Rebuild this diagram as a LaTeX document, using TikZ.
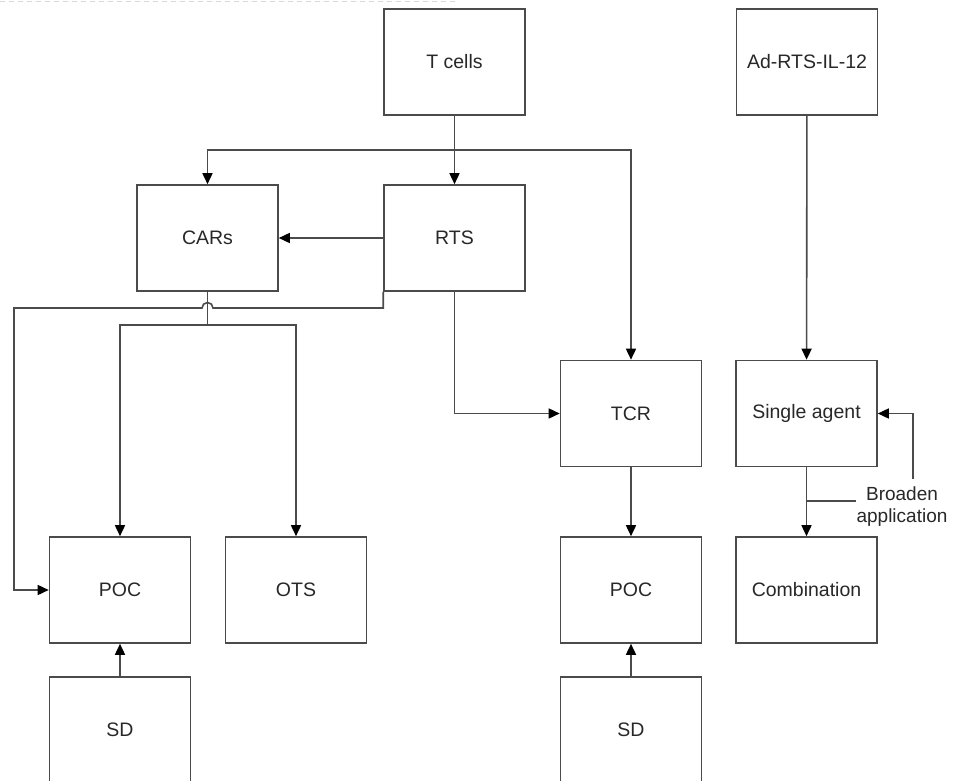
\documentclass[tikz,border=0pt]{standalone}
\usepackage{fontspec}
\setmainfont{Liberation Sans}
\usetikzlibrary{arrows.meta}
\definecolor{linegray}{RGB}{75,75,75}
\definecolor{textgray}{RGB}{40,40,40}
\begin{document}
\begin{tikzpicture}[x=1pt,y=-1pt,
  box/.style={draw=linegray, line width=1.6pt, minimum width=141pt, minimum height=106pt, inner sep=0pt, font=\fontsize{19.5}{23}\selectfont, text=textgray},
  conn/.style={draw=linegray, line width=1.6pt},
  arr/.style={conn, -{Triangle[length=11pt,width=10pt,fill=black,color=black]}},
  lbl/.style={font=\fontsize{19}{22}\selectfont, text=textgray, align=center, inner sep=0pt}]
\fill[white] (0,0) rectangle (954,781);
\useasboundingbox (0,0) rectangle (954,781);
\draw[gray!30, line width=1pt, dash pattern=on 5pt off 4pt] (0,2) -- (455,2);

\node[box] (tcells) at (454.5,62) {T cells};
\node[box] (ad) at (807,62) {Ad-RTS-IL-12};
\node[box] (cars) at (207.5,238) {CARs};
\node[box] (rts) at (454.5,238) {RTS};
\node[box] (tcr) at (631,413.5) {TCR};
\node[box] (single) at (806.5,413.5) {Single agent};
\node[box] (pocl) at (120,590) {POC};
\node[box] (ots) at (296,590) {OTS};
\node[box] (pocr) at (631,590) {POC};
\node[box] (comb) at (806.5,590) {Combination};
\node[box] (sdl) at (120,730) {SD};
\node[box] (sdr) at (631,730) {SD};
\node[lbl] (broad) at (902,507) {Broaden\\application};

\coordinate (top) at (454.5,150);
\coordinate (split) at (207.5,325);
\coordinate (bt) at (913,479);
\coordinate (bl) at (856,501);
\coordinate (bj) at (806.5,501);

\draw[arr] (tcells) -- (rts);
\draw[arr] (top) -| (cars.north);
\draw[arr] (top) -| (tcr.north);
\draw[arr] (rts.west) -- (cars.east);
\draw[arr] (rts.south) |- (tcr.west);
\draw[conn] (cars.south) -- (split);
\draw[arr] (split) -| (pocl.north);
\draw[arr] (split) -| (ots.north);
\draw[arr] (rts.south west) |- (213,308) arc[start angle=0,end angle=-180,radius=5.5] -- (14,308) |- (pocl.west);
\draw[arr] (tcr) -- (pocr);
\draw[arr] (sdl) -- (pocl);
\draw[arr] (sdr) -- (pocr);
\draw[arr] (ad) -- (single);
\draw[arr] (single) -- (comb);
\draw[conn] (bj) -- (bl);
\draw[arr] (bt) |- (single.east);
\end{tikzpicture}
\end{document}
